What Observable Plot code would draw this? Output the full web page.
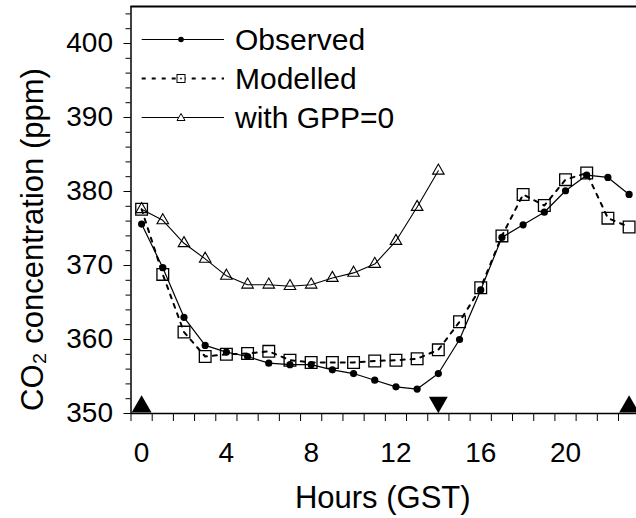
<!DOCTYPE html>
<html>
<head>
<meta charset="utf-8">
<script src="https://cdn.jsdelivr.net/npm/d3@7"></script>
<script src="https://cdn.jsdelivr.net/npm/@observablehq/plot@0.6"></script>
<style>
  html, body { margin: 0; padding: 0; background: white; }
  #wrap { position: relative; width: 636px; height: 518px; overflow: hidden; font-family: "Liberation Sans", Arial, sans-serif; }
  #legend { position: absolute; left: 130px; top: 19.5px; }
  .row { display: flex; align-items: center; height: 39px; }
  .row span { font-size: 30px; line-height: 39px; color: black; }
</style>
</head>
<body>
<div id="wrap"><div id="chart"></div><div id="legend"></div></div>
<script>
// ---- data ----
const hours = [0,1,2,3,4,5,6,7,8,9,10,11,12,13,14,15,16,17,18,19,20,21,22,23];
const observed = [375.6, 369.7, 363.0, 359.2, 358.3, 357.7, 356.8, 356.6, 356.6, 355.9, 355.4, 354.5,
                  353.6, 353.3, 355.4, 360.0, 366.7, 373.8, 375.5, 377.2, 380.1, 382.2, 381.9, 379.6];
const modelled = [377.6, 368.8, 361.0, 357.7, 358.0, 358.1, 358.4, 357.2, 356.9, 356.9, 356.9, 357.1,
                  357.2, 357.4, 358.6, 362.4, 367.0, 374.0, 379.6, 378.1, 381.6, 382.5, 376.4, 375.2];
const gppHours = [0,1,2,3,4,5,6,7,8,9,10,11,12,13,14];
const gppZero = [377.6, 376.1, 373.0, 370.9, 368.6, 367.4, 367.4, 367.2, 367.4, 368.3, 369.0, 370.2, 373.3, 377.9, 382.8];
const sunriseHours = [0, 23];
const sunsetHours = [14];
const yBase = 350;
const yMajorTicks = [350, 360, 370, 380, 390, 400];
const yMinorTicks = [350,352,354,356,358,360,362,364,366,368,370,372,374,376,378,380,382,384,386,388,390,392,394,396,398,400,402,404];
const xTickLabels = [0, 4, 8, 12, 16, 20];
const xMinorTicks = [-0.5,0.5,1.5,2.5,3.5,4.5,5.5,6.5,7.5,8.5,9.5,10.5,11.5,12.5,13.5,14.5,15.5,16.5,17.5,18.5,19.5,20.5,21.5,22.5,23.5];
const seriesNames = ["Observed", "Modelled", "with GPP=0"];

const obsData = hours.map((h, i) => ({h, v: observed[i]}));
const modData = hours.map((h, i) => ({h, v: modelled[i]}));
const gppData = gppHours.map((h, i) => ({h, v: gppZero[i]}));

const triangleDown = {
  draw(context, size) {
    const y = Math.sqrt(size / (Math.sqrt(3) * 3));
    context.moveTo(0, y * 2);
    context.lineTo(-Math.sqrt(3) * y, -y);
    context.lineTo(Math.sqrt(3) * y, -y);
    context.closePath();
  }
};

const chart = Plot.plot({
  width: 636,
  height: 518,
  marginLeft: 130.5,
  marginRight: 0,
  marginTop: 6,
  marginBottom: 105,
  x: {domain: [-0.5, 23.5], range: [130.5, 639.2]},
  y: {domain: [350, 405], range: [413, 6]},
  style: {fontFamily: "Liberation Sans, Arial, sans-serif", background: "white", color: "black"},
  marks: [
    Plot.axisY(yMajorTicks, {tickSize: 7, tickPadding: 11, fontSize: 28, label: null, tickFormat: d => String(d)}),
    Plot.axisY(yMinorTicks, {tickSize: 5, text: null, label: null}),
    Plot.axisX(xTickLabels, {tickSize: 0, tickPadding: 29, fontSize: 28, label: null, tickFormat: d => String(d)}),
    Plot.axisX(xMinorTicks, {tickSize: 8, text: null, label: null}),
    Plot.ruleX([-0.5], {stroke: "black", strokeWidth: 1.5}),
    Plot.ruleY([350], {stroke: "black", strokeWidth: 1.5}),
    Plot.ruleY([405], {stroke: "black", strokeWidth: 1.8}),
    Plot.line(gppData, {x: "h", y: "v", stroke: "black", strokeWidth: 1.1}),
    Plot.line(modData, {x: "h", y: "v", stroke: "black", strokeWidth: 2, strokeDasharray: "4,6"}),
    Plot.line(obsData, {x: "h", y: "v", stroke: "black", strokeWidth: 1.2}),
    Plot.dot(gppData, {x: "h", y: "v", symbol: "triangle", r: 4.3, stroke: "black", strokeWidth: 1.1, fill: "none"}),
    Plot.dot(modData, {x: "h", y: "v", symbol: "square", r: 6.6, stroke: "black", strokeWidth: 1.3, fill: "none"}),
    Plot.dot(obsData, {x: "h", y: "v", r: 3.6, fill: "black", stroke: "none"}),
    Plot.dot(sunriseHours, {x: d => d, y: () => yBase, symbol: "triangle", r: 7.4, fill: "black", stroke: "none", dy: -6.8}),
    Plot.dot(sunsetHours, {x: d => d, y: () => yBase, symbol: triangleDown, r: 7.0, fill: "black", stroke: "none", dy: -11.2}),
    Plot.text(["Hours (GST)"], {frameAnchor: "bottom", dy: 85, dx: -1, fontSize: 31, lineAnchor: "middle", textAnchor: "middle", fill: "black"}),
    Plot.text(["CO₂ concentration (ppm)"], {frameAnchor: "left", rotate: -90, dx: -97.5, dy: 29.5, fontSize: 31, lineAnchor: "middle", textAnchor: "middle", fill: "black"})
  ]
});
document.getElementById("chart").appendChild(chart);

// ---- legend ----
const legend = d3.select("#legend");
const styles = [
  {dash: null, width: 1.2, marker: "dot"},
  {dash: "4,6", width: 2, marker: "square"},
  {dash: null, width: 1.1, marker: "triangle"}
];
seriesNames.forEach((name, i) => {
  const row = legend.append("div").attr("class", "row");
  const svg = row.append("svg").attr("width", 105).attr("height", 39);
  const s = styles[i];
  svg.append("line").attr("x1", 11.7).attr("x2", 94).attr("y1", 19.5).attr("y2", 19.5)
    .attr("stroke", "black").attr("stroke-width", s.width).attr("stroke-dasharray", s.dash);
  if (s.marker === "dot") {
    svg.append("circle").attr("cx", 51).attr("cy", 19.5).attr("r", 2.8).attr("fill", "black");
  } else if (s.marker === "square") {
    svg.append("rect").attr("x", 47).attr("y", 15.5).attr("width", 8).attr("height", 8)
      .attr("fill", "white").attr("stroke", "black").attr("stroke-width", 1);
    svg.append("rect").attr("x", 50.2).attr("y", 18.7).attr("width", 1.6).attr("height", 1.6).attr("fill", "black");
  } else {
    svg.append("path").attr("d", "M51,15.5 L55,22.5 L47,22.5 Z")
      .attr("fill", "white").attr("stroke", "black").attr("stroke-width", 1);
  }
  row.append("span").text(name);
});
</script>
</body>
</html>
